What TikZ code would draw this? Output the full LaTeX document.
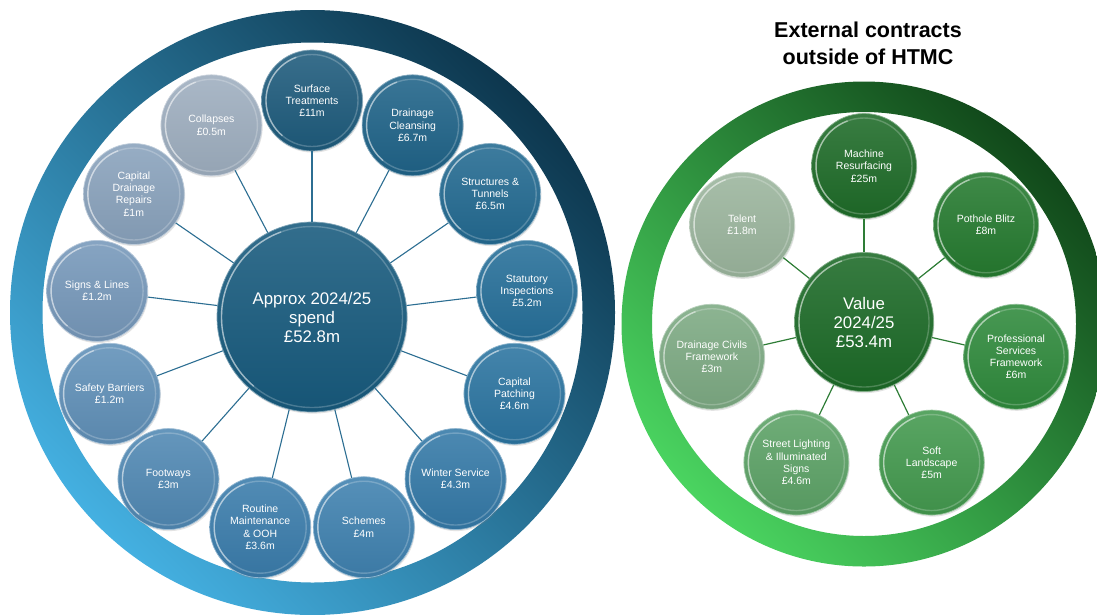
\documentclass[tikz,border=0pt]{standalone}
\usepackage{fontspec}
\setmainfont{Liberation Sans}
\usetikzlibrary{calc,shadows}
\definecolor{l0}{HTML}{1E5B7C}
\definecolor{l1}{HTML}{1F6388}
\definecolor{l2}{HTML}{236A91}
\definecolor{l3}{HTML}{266F99}
\definecolor{l4}{HTML}{2B74A0}
\definecolor{l5}{HTML}{3479A7}
\definecolor{l6}{HTML}{3F81AF}
\definecolor{l7}{HTML}{3A7CAB}
\definecolor{l8}{HTML}{5088B3}
\definecolor{l9}{HTML}{6090B8}
\definecolor{l10}{HTML}{7698BA}
\definecolor{l11}{HTML}{89A2BC}
\definecolor{l12}{HTML}{9EAEBF}
\definecolor{lhub}{HTML}{175A7D}
\definecolor{r0}{HTML}{1E6B28}
\definecolor{r1}{HTML}{257A2F}
\definecolor{r2}{HTML}{2F8A3C}
\definecolor{r3}{HTML}{43994E}
\definecolor{r4}{HTML}{5CA266}
\definecolor{r5}{HTML}{7DAA83}
\definecolor{r6}{HTML}{9BB59D}
\definecolor{rhub}{HTML}{1C6A27}
\definecolor{blueLight}{RGB}{68,176,225}
\definecolor{blueDark}{RGB}{13,55,78}
\definecolor{greenLight}{RGB}{74,212,96}
\definecolor{greenDark}{RGB}{17,72,26}
\definecolor{connL}{HTML}{2C6E92}
\definecolor{connR}{HTML}{2E7D36}
\begin{document}
\begin{tikzpicture}[x=1pt,y=-1pt,
  bub/.style 2 args={circle, inner sep=0pt, minimum size=2*#2, align=center, text=white,
    top color=#1!88!white, bottom color=#1!94!black, draw=#1!55!white, line width=0.7pt,
    drop shadow={shadow xshift=0.8pt, shadow yshift=-1.6pt, opacity=0.22},
    path picture={
      \draw[white, opacity=0.22, line width=1.4pt] (path picture bounding box.center) circle[radius=#2-4.5pt];
      \draw[white, opacity=0.45, line width=1.4pt] ($(path picture bounding box.center)+(110:#2-4.5pt)$) arc[start angle=110, end angle=230, radius=#2-4.5pt];
    }},
  satfont/.style={font=\fontsize{10.5}{12.3}\selectfont},
  hubfont/.style={font=\fontsize{16.8}{19}\selectfont},
  linkL/.style={draw=connL, line width=1.1pt},
  linkR/.style={draw=connR, line width=1.2pt},
  ringL/.style={even odd rule, top color=blueLight, bottom color=blueDark, shading angle=135},
  ringR/.style={even odd rule, top color=greenLight, bottom color=greenDark, shading angle=135},
  titlefont/.style={font=\bfseries\fontsize{21.5}{27}\selectfont, align=center, text=black}
]
\useasboundingbox (0,0) rectangle (1097,614);
\clip (0,0) rectangle (1097,614);
\fill[white] (0,0) rectangle (1097,614);

% rings
\shade[ringL] (312.5,312.5) circle[radius=302.5pt] (312.5,312.5) circle[radius=270pt];
\shade[ringR] (864,324) circle[radius=242.5pt] (864,324) circle[radius=212pt];

% title
\node[titlefont] (title) at (868,43.5) {External contracts\\outside of HTMC};

% left diagram
\coordinate (cl) at (312,317);
\node[bub={lhub}{95pt}, hubfont] (hubL) at (cl) {Approx 2024/25\\spend\\£52.8m};
\node[bub={l0}{50.5pt}, satfont] (s0) at ($(cl)+(90:216.5pt)$) {Surface\\Treatments\\£11m};
\node[bub={l1}{50.5pt}, satfont] (s1) at ($(cl)+(62.31:216.5pt)$) {Drainage\\Cleansing\\£6.7m};
\node[bub={l2}{50.5pt}, satfont] (s2) at ($(cl)+(34.62:216.5pt)$) {Structures \&\\Tunnels\\£6.5m};
\node[bub={l3}{50.5pt}, satfont] (s3) at ($(cl)+(6.92:216.5pt)$) {Statutory\\Inspections\\£5.2m};
\node[bub={l4}{50.5pt}, satfont] (s4) at ($(cl)+(-20.77:216.5pt)$) {Capital\\Patching\\£4.6m};
\node[bub={l5}{50.5pt}, satfont] (s5) at ($(cl)+(-48.46:216.5pt)$) {Winter Service\\£4.3m};
\node[bub={l6}{50.5pt}, satfont] (s6) at ($(cl)+(-76.15:216.5pt)$) {Schemes\\£4m};
\node[bub={l7}{50.5pt}, satfont] (s7) at ($(cl)+(-103.85:216.5pt)$) {Routine\\Maintenance\\\& OOH\\£3.6m};
\node[bub={l8}{50.5pt}, satfont] (s8) at ($(cl)+(-131.54:216.5pt)$) {Footways\\£3m};
\node[bub={l9}{50.5pt}, satfont] (s9) at ($(cl)+(-159.23:216.5pt)$) {Safety Barriers\\£1.2m};
\node[bub={l10}{50.5pt}, satfont] (s10) at ($(cl)+(-186.92:216.5pt)$) {Signs \& Lines\\£1.2m};
\node[bub={l11}{50.5pt}, satfont] (s11) at ($(cl)+(-214.62:216.5pt)$) {Capital\\Drainage\\Repairs\\£1m};
\node[bub={l12}{50.5pt}, satfont] (s12) at ($(cl)+(-242.31:216.5pt)$) {Collapses\\£0.5m};
\foreach \i in {0,...,12} { \draw[linkL] (hubL) -- (s\i); }

% right diagram
\coordinate (cr) at (864,322);
\node[bub={rhub}{69.5pt}, hubfont] (hubR) at (cr) {Value\\2024/25\\£53.4m};
\node[bub={r0}{52.5pt}, satfont] (t0) at ($(cr)+(90:156pt)$) {Machine\\Resurfacing\\£25m};
\node[bub={r1}{52.5pt}, satfont] (t1) at ($(cr)+(38.57:156pt)$) {Pothole Blitz\\£8m};
\node[bub={r2}{52.5pt}, satfont] (t2) at ($(cr)+(-12.86:156pt)$) {Professional\\Services\\Framework\\£6m};
\node[bub={r3}{52.5pt}, satfont] (t3) at ($(cr)+(-64.29:156pt)$) {Soft\\Landscape\\£5m};
\node[bub={r4}{52.5pt}, satfont] (t4) at ($(cr)+(-115.71:156pt)$) {Street Lighting\\\& Illuminated\\Signs\\£4.6m};
\node[bub={r5}{52.5pt}, satfont] (t5) at ($(cr)+(-167.14:156pt)$) {Drainage Civils\\Framework\\£3m};
\node[bub={r6}{52.5pt}, satfont] (t6) at ($(cr)+(-218.57:156pt)$) {Telent\\£1.8m};
\foreach \i in {0,...,6} { \draw[linkR] (hubR) -- (t\i); }
\end{tikzpicture}
\end{document}
